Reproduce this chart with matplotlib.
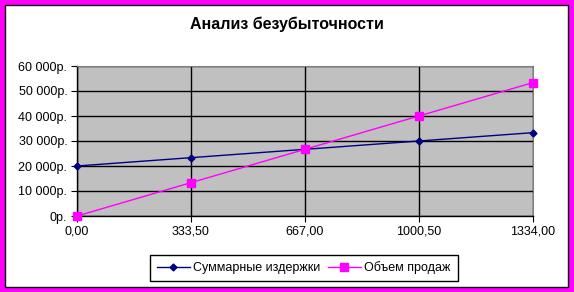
import matplotlib.pyplot as plt
from matplotlib.patches import Rectangle

# chart data
volumes = [0.0, 333.5, 667.0, 1000.5, 1334.0]
x_labels = ["0,00", "333,50", "667,00", "1000,50", "1334,00"]
total_costs = [20000, 23335, 26670, 30005, 33340]
sales = [0, 13340, 26680, 40020, 53360]
y_ticks = [0, 10000, 20000, 30000, 40000, 50000, 60000]
y_labels = ["0р.", "10 000р.", "20 000р.", "30 000р.", "40 000р.", "50 000р.", "60 000р."]

plt.rcParams['font.family'] = ['Liberation Sans', 'DejaVu Sans']

W, H = 574, 292
fig = plt.figure(figsize=(W / 100, H / 100), dpi=100, facecolor='#FF00FF')
# white chart area with thin black frame inside the magenta border
fig.patches.append(Rectangle((5 / W, 5 / H), (568 - 5) / W, (287 - 5) / H,
                             transform=fig.transFigure, facecolor='white',
                             edgecolor='black', linewidth=1.0, zorder=-1))

ax = fig.add_axes([77 / W, 1 - 216 / H, (533 - 77) / W, (216 - 66) / H])
ax.set_facecolor('#C0C0C0')

idx = list(range(len(volumes)))
ax.plot(idx, total_costs, color='#000080', marker='D', markersize=3.5,
        linewidth=1.0, label='Суммарные издержки', zorder=3, clip_on=False)
ax.plot(idx, sales, color='#FF00FF', marker='s', markersize=5.5,
        linewidth=1.0, label='Объем продаж', zorder=3, clip_on=False)

ax.set_xlim(0, len(volumes) - 1)
ax.set_ylim(0, 60000)
ax.set_xticks(idx)
ax.set_xticklabels(x_labels, fontsize=9)
ax.set_yticks(y_ticks)
ax.set_yticklabels(y_labels, fontsize=9)
ax.tick_params(axis='both', direction='out', length=4, width=0.8, color='black', pad=3)
ax.grid(True, color='black', linewidth=1.0)
ax.set_axisbelow(True)
for side in ['top', 'right']:
    ax.spines[side].set_color('#808080')
    ax.spines[side].set_linewidth(0.8)
for side in ['left', 'bottom']:
    ax.spines[side].set_color('black')
    ax.spines[side].set_linewidth(1.0)

fig.text(0.5, 1 - 24 / H, 'Анализ безубыточности', ha='center', va='center',
         fontsize=11.5, fontweight='bold')

leg = fig.legend(loc='center', bbox_to_anchor=(304 / W, 1 - 268 / H), ncol=2,
                 fontsize=9, frameon=True, fancybox=False, handlelength=2.6,
                 handletextpad=0.3, columnspacing=0.6, borderpad=0.55,
                 edgecolor='black', framealpha=1)
leg.get_frame().set_linewidth(1.0)

fig.savefig('out.png', dpi=100, facecolor=fig.get_facecolor())
